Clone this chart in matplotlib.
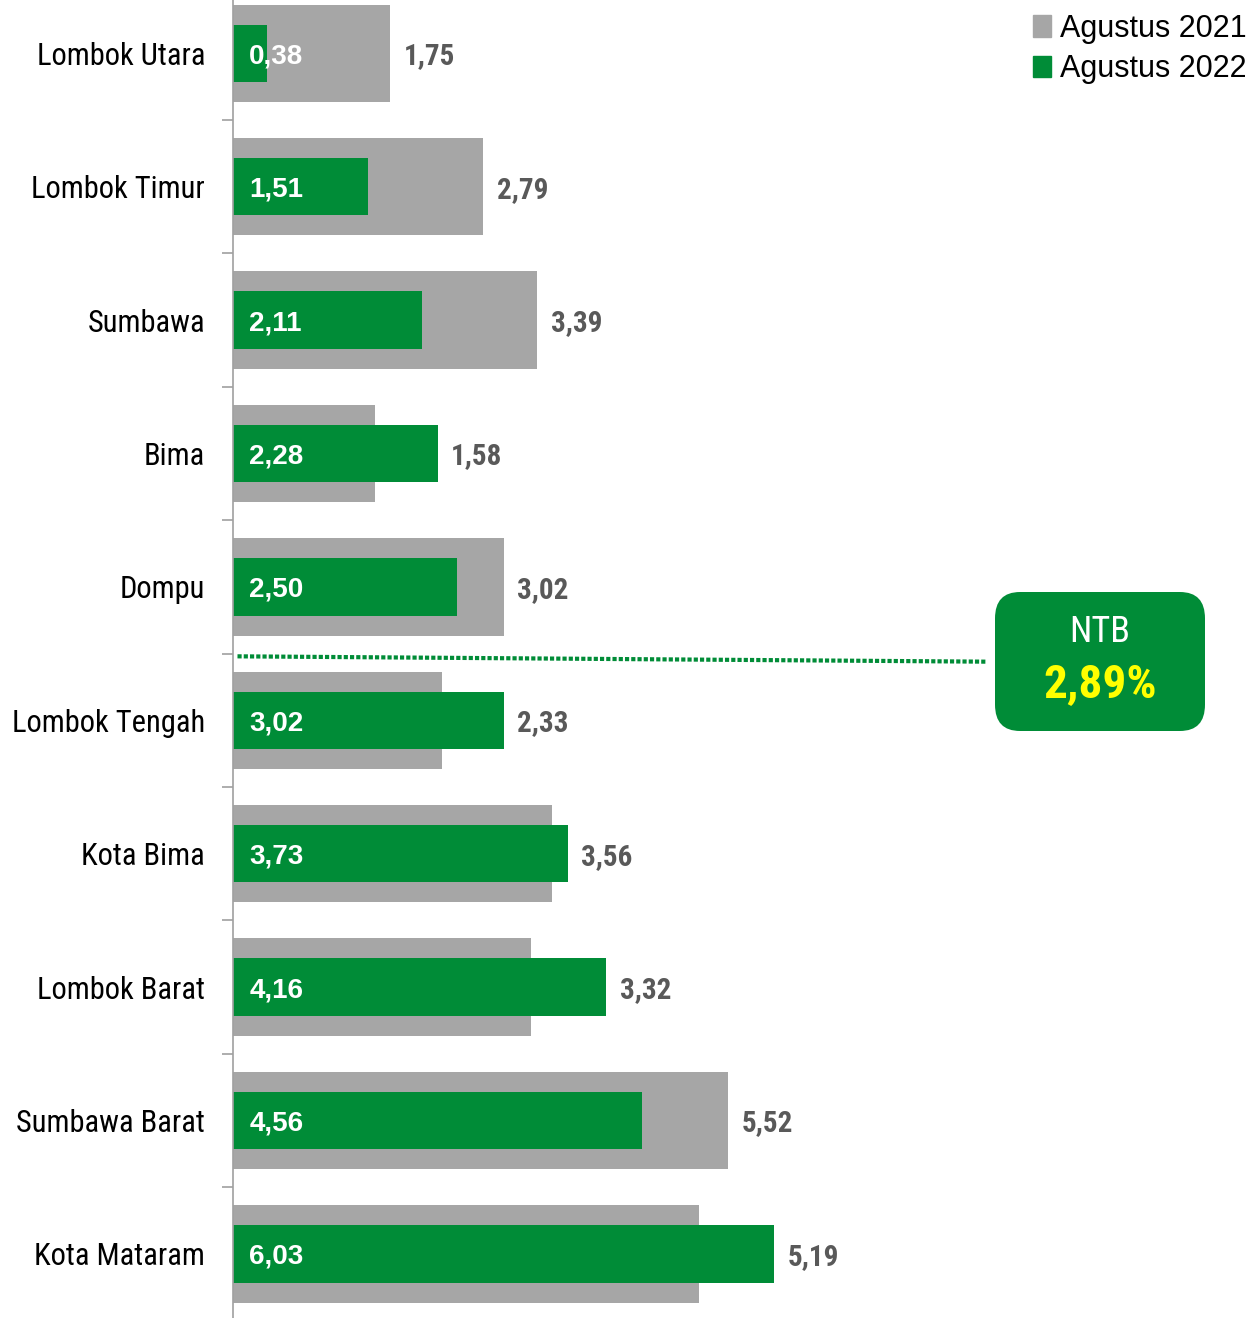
import matplotlib.pyplot as plt
from matplotlib.patches import FancyBboxPatch, Patch
import numpy as np

# data (top to bottom)
kabupaten = ["Lombok Utara", "Lombok Timur", "Sumbawa", "Bima", "Dompu",
             "Lombok Tengah", "Kota Bima", "Lombok Barat", "Sumbawa Barat", "Kota Mataram"]
agustus_2021 = [1.75, 2.79, 3.39, 1.58, 3.02, 2.33, 3.56, 3.32, 5.52, 5.19]
agustus_2022 = [0.38, 1.51, 2.11, 2.28, 2.50, 3.02, 3.73, 4.16, 4.56, 6.03]
ntb_label = "NTB"
ntb_value = "2,89%"

narrow = ["Roboto Condensed", "Archivo Narrow", "DejaVu Sans"]
regular = ["Liberation Sans", "DejaVu Sans"]

grey = "#a6a6a6"
green = "#008c37"

fig = plt.figure(figsize=(12.53, 13.18), dpi=100)
ax = fig.add_axes([233 / 1253, 0, 1 - 233 / 1253, 1])

y = np.arange(len(kabupaten))
ax.barh(y, agustus_2021, height=0.73, color=grey)
ax.barh(y, agustus_2022, height=0.43, color=green)

ax.set_ylim(len(kabupaten) - 0.52, -0.4)
ax.set_xlim(0, (1253 - 233) / 89.7)

for i in range(len(kabupaten)):
    ax.text(0.18, i, f"{agustus_2022[i]:.2f}".replace(".", ","), color="white",
            fontsize=20, fontweight="bold", family=regular, va="center_baseline", ha="left")
    xr = max(agustus_2021[i], agustus_2022[i]) + 0.15
    ax.text(xr, i, f"{agustus_2021[i]:.2f}".replace(".", ","), color="#595959",
            fontsize=21, fontweight="bold", family=narrow, va="center_baseline", ha="left")

ax.set_yticks(y)
ax.set_yticklabels(kabupaten, family=narrow, fontsize=22)
ax.tick_params(axis="y", which="major", length=0, pad=20)
ax.set_yticks(np.arange(len(kabupaten) - 1) + 0.5, minor=True)
ax.tick_params(axis="y", which="minor", length=8, color="#a0a0a0", width=1.2)
ax.set_xticks([])
for s in ["top", "right", "bottom"]:
    ax.spines[s].set_visible(False)
ax.spines["left"].set_color("#a0a0a0")
ax.spines["left"].set_linewidth(1.2)

# NTB average line and box
ax.plot([0.05, 8.4], [4.52, 4.56], color=green, linestyle=(0, (1, 0.5)), linewidth=3)
box = FancyBboxPatch((995 / 1253, 1 - 731 / 1318), 210 / 1253, 139 / 1318,
                     boxstyle="round,pad=0,rounding_size=0.02", transform=fig.transFigure,
                     facecolor=green, edgecolor="none")
fig.patches.append(box)
fig.text(1100 / 1253, 1 - 632 / 1318, ntb_label, color="white", fontsize=26,
         family=narrow, ha="center", va="center")
fig.text(1100 / 1253, 1 - 684 / 1318, ntb_value, color="#ffff00", fontsize=34,
         fontweight="bold", family=narrow, ha="center", va="center")

handles = [Patch(color=grey, label="Agustus 2021"), Patch(color=green, label="Agustus 2022")]
fig.legend(handles=handles, loc="upper right", bbox_to_anchor=(1.006, 1.0), frameon=False,
           prop={"family": regular, "size": 22}, handlelength=0.6, handleheight=0.7,
           handletextpad=0.3, labelspacing=0.35, borderaxespad=0.1, borderpad=0.35)

fig.savefig("out.png", dpi=100)
